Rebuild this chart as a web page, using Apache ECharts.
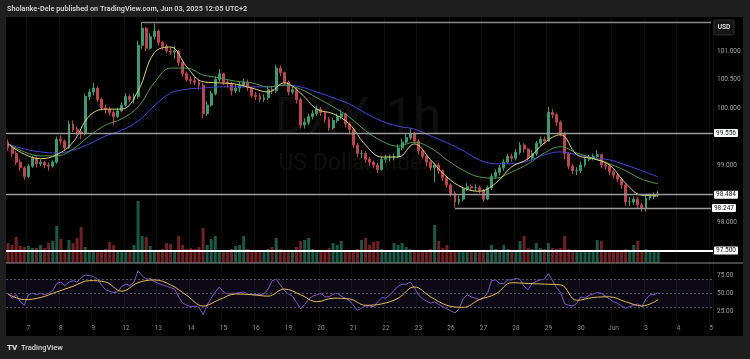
<!DOCTYPE html>
<html><head><meta charset="utf-8">
<script src="https://cdn.jsdelivr.net/npm/echarts@6/dist/echarts.min.js"></script>
<style>html,body{margin:0;padding:0;background:#1f1f1f}#c{width:750px;height:359px}</style>
</head><body><div id="c"></div>
<script>
// ---- axis / time layout ----
const dayLabels = ['7','8','9','12','13','14','15','16','19','20','21','22','23','26','27','28','29','30','Jun','3','4','5'];
const SLOTS_PER_DAY = 8;      // 3-hour candles
const FIRST_DAY_SLOT = 5;     // slot where "7" starts
const TOTAL_SLOTS = 174;      // includes empty future space

// ---- price candles (3h) ----
const opens = [99.40,99.30,99.20,99.05,98.95,98.80,98.98,99.12,99.02,99.05,
99.00,98.98,99.05,99.45,99.42,99.30,99.72,99.62,99.58,99.55,
100.20,100.28,100.35,100.15,100.00,99.97,99.92,99.85,99.95,100.05,
100.20,100.15,100.20,101.10,101.40,101.05,101.25,101.35,101.15,101.08,
101.00,100.98,101.00,100.80,100.60,100.50,100.48,100.45,100.40,99.90,
100.05,100.25,100.50,100.60,100.45,100.42,100.30,100.35,100.40,100.45,
100.35,100.22,100.20,100.15,100.18,100.32,100.30,100.70,100.62,100.45,
100.28,100.32,100.15,99.70,99.75,99.85,99.90,99.98,99.92,99.80,
99.65,99.78,99.85,99.90,99.72,99.62,99.35,99.20,99.20,99.10,
99.05,99.00,98.92,99.10,99.12,99.12,99.15,99.30,99.40,99.48,
99.55,99.42,99.25,99.15,99.05,98.95,99.00,98.90,98.78,98.65,
98.50,98.35,98.40,98.58,98.62,98.60,98.60,98.56,98.40,98.60,
98.80,98.87,98.95,99.05,99.15,99.12,99.22,99.35,99.28,99.12,
99.20,99.38,99.45,99.42,99.92,99.88,99.75,99.55,99.20,98.98,
98.90,98.90,99.00,99.10,99.12,99.15,99.18,99.00,98.98,98.88,
98.82,98.75,98.65,98.35,98.35,98.40,98.30,98.25,98.42,98.45,
98.48];
const closes = [99.30,99.20,99.05,98.95,98.80,98.98,99.12,99.02,99.05,99.00,
98.98,99.05,99.45,99.42,99.30,99.72,99.62,99.58,99.55,100.20,
100.28,100.35,100.15,100.00,99.97,99.92,99.85,99.95,100.05,100.20,
100.15,100.20,101.10,101.40,101.05,101.25,101.35,101.15,101.08,101.00,
100.98,101.00,100.80,100.60,100.50,100.48,100.45,100.40,99.90,100.05,
100.25,100.50,100.60,100.45,100.42,100.30,100.35,100.40,100.45,100.35,
100.22,100.20,100.15,100.18,100.32,100.30,100.70,100.62,100.45,100.28,
100.32,100.15,99.70,99.75,99.85,99.90,99.98,99.92,99.80,99.65,
99.78,99.85,99.90,99.72,99.62,99.35,99.20,99.20,99.10,99.05,
99.00,98.92,99.10,99.12,99.12,99.15,99.30,99.40,99.48,99.55,
99.42,99.25,99.15,99.05,98.95,99.00,98.90,98.78,98.65,98.50,
98.35,98.40,98.58,98.62,98.60,98.60,98.56,98.40,98.60,98.80,
98.87,98.95,99.05,99.15,99.12,99.22,99.35,99.28,99.12,99.20,
99.38,99.45,99.42,99.92,99.88,99.75,99.55,99.20,98.98,98.90,
98.90,99.00,99.10,99.12,99.15,99.18,99.00,98.98,98.88,98.82,
98.75,98.65,98.35,98.35,98.40,98.30,98.25,98.42,98.45,98.48,
98.48];
const lows = [99.25,99.14,99.00,98.90,98.74,98.77,98.95,98.96,98.98,98.94,
98.90,98.95,99.02,99.36,99.26,99.28,99.58,99.52,99.45,99.52,
100.14,100.22,100.10,99.96,99.90,99.87,99.70,99.82,99.92,100.02,
100.10,100.08,100.16,101.04,101.00,101.02,101.20,101.10,101.02,100.96,
100.93,100.86,100.74,100.55,100.46,100.42,100.40,100.32,99.82,99.86,
100.02,100.22,100.46,100.40,100.36,100.22,100.26,100.28,100.36,100.30,
100.18,100.14,100.10,100.10,100.14,100.24,100.26,100.56,100.40,100.22,
100.24,100.08,99.64,99.64,99.70,99.80,99.86,99.86,99.74,99.60,
99.62,99.74,99.80,99.66,99.56,99.30,99.14,99.12,99.04,98.98,
98.94,98.86,98.90,99.04,99.06,99.08,99.12,99.26,99.36,99.44,
99.38,99.18,99.10,98.98,98.90,98.70,98.84,98.72,98.60,98.44,
98.25,98.30,98.36,98.54,98.55,98.54,98.50,98.35,98.38,98.56,
98.76,98.82,98.90,99.02,99.06,99.08,99.18,99.22,99.08,99.08,
99.16,99.34,99.36,99.40,99.82,99.68,99.50,99.10,98.92,98.84,
98.82,98.86,98.96,99.06,99.08,99.10,98.95,98.92,98.82,98.76,
98.70,98.58,98.28,98.28,98.30,98.24,98.18,98.18,98.38,98.40,
98.44];
const highs = [99.45,99.35,99.24,99.10,98.98,99.02,99.16,99.15,99.10,99.08,
99.04,99.08,99.50,99.52,99.45,99.78,99.78,99.68,99.62,100.25,
100.34,100.44,100.38,100.18,100.06,100.02,99.96,100.00,100.10,100.26,
100.24,100.26,101.18,101.51,101.42,101.32,101.48,101.38,101.18,101.12,
101.06,101.08,101.02,100.84,100.64,100.56,100.54,100.50,100.44,100.12,
100.30,100.56,100.68,100.62,100.50,100.46,100.42,100.46,100.52,100.50,
100.38,100.28,100.26,100.24,100.38,100.38,100.76,100.74,100.64,100.48,
100.38,100.36,100.18,99.82,99.90,99.96,100.04,100.02,99.95,99.84,
99.82,99.90,99.96,99.92,99.76,99.65,99.38,99.26,99.24,99.14,
99.08,99.04,99.14,99.18,99.18,99.20,99.36,99.46,99.54,99.65,
99.58,99.45,99.28,99.18,99.08,99.04,99.04,98.92,98.80,98.68,
98.54,98.46,98.62,98.68,98.66,98.66,98.64,98.58,98.64,98.85,
98.92,99.00,99.10,99.20,99.20,99.28,99.40,99.38,99.30,99.26,
99.42,99.50,99.50,100.02,99.98,99.92,99.78,99.58,99.22,99.02,
98.96,99.06,99.14,99.18,99.20,99.26,99.20,99.06,99.02,98.92,
98.86,98.78,98.68,98.44,98.45,98.44,98.34,98.46,98.50,98.52,
98.54];

// ---- volume (relative units) ----
const volumes = [20,18,26,17,16,17,15,15,18,15,
20,22,37,24,13,23,20,25,36,16,
13,12,12,13,14,21,18,12,12,12,
13,18,62,27,26,17,13,13,14,20,
19,12,27,18,14,15,14,16,35,18,
24,27,13,13,12,14,17,18,27,14,
13,12,13,13,14,16,25,14,13,12,
13,16,22,23,25,14,12,13,13,15,
20,18,22,12,12,13,14,23,25,18,
21,22,14,12,13,20,18,20,16,14,
12,12,13,12,14,38,22,15,18,13,
12,12,13,12,12,13,12,13,12,18,
14,13,18,14,13,12,22,27,15,14,
20,15,14,20,15,14,15,27,14,13,
12,12,13,12,13,23,22,12,12,11,
12,13,14,12,18,22,12,14,12,13,
12];

// ---- moving averages, one value every MA_STEP slots ----
const MA_STEP = 4;
const maFast = [99.37,99.19,99.11,99.18,99.40,99.86,99.98,99.98,100.30,100.97,101.07,100.72,100.46,100.44,100.42,100.35,100.28,100.44,100.26,99.98,99.90,99.72,99.35,99.14,99.14,99.37,99.09,98.79,98.60,98.54,98.68,98.97,99.11,99.39,99.53,99.18,99.11,99.00,98.68,98.47,98.46];
const maMid  = [99.37,99.23,99.16,99.16,99.28,99.51,99.70,99.81,100.02,100.44,100.70,100.70,100.58,100.53,100.47,100.44,100.37,100.40,100.33,100.18,100.02,99.84,99.60,99.42,99.33,99.40,99.30,99.09,98.91,98.79,98.77,98.88,99.02,99.21,99.32,99.21,99.12,99.02,98.90,98.75,98.67];
const maSlow = [99.37,99.28,99.23,99.21,99.26,99.37,99.51,99.61,99.77,100.04,100.26,100.33,100.35,100.37,100.37,100.37,100.37,100.40,100.37,100.28,100.18,100.07,99.91,99.77,99.68,99.63,99.51,99.39,99.25,99.09,99.02,99.02,99.07,99.18,99.23,99.18,99.12,99.09,99.00,98.90,98.79];

// ---- RSI ----
const rsi = [50,43,48,38,33,48,50,48,50,48,
50,54,64,66,61,66,68,66,72,76,
75,74,70,62,55,53,51,52,60,63,
61,66,82,75,70,71,67,64,62,60,
58,56,45,36,33,31,32,30,20,33,
43,52,59,52,49,50,50,51,52,49,
48,48,48,49,56,68,70,62,54,49,
46,37,28,34,42,46,48,50,45,45,
49,50,46,43,40,33,26,29,32,32,
31,38,44,43,48,54,60,63,63,66,
58,48,42,39,36,38,34,31,28,25,
22,28,42,48,45,43,41,44,50,68,
69,64,64,69,69,71,70,60,55,64,
67,69,70,78,68,58,51,35,33,32,
36,45,43,47,49,51,50,46,42,38,
36,32,29,31,33,35,31,42,48,48,
51];
const rsiMa = [49,41,44,52,60,68,66,53,65,69,62,47,32,41,49,48,46,56,48,38,43,42,33,35,43,59,45,33,30,41,49,65,64,63,62,40,44,45,38,32,41];
const rsiLevels = [70, 50, 30];
const rsiTickLabels = [75, 50, 25];

// ---- horizontal levels & price tick labels ----
const levelTop = 101.509, levelTopStartSlot = 33;
const level1 = 99.556;
const level2 = 98.484;
const level3 = 98.247, level3StartSlot = 110;
const level4 = 97.500;
const priceTickLabels = [101, 100.5, 100, 99, 98];

// ---- build ----
const FONT = 'Roboto, "Liberation Sans", sans-serif';
const categories = [];
for (let k = 0; k < TOTAL_SLOTS; k++) categories.push(String(k));
function daySlot(idx) {
  const d = (idx - FIRST_DAY_SLOT) / SLOTS_PER_DAY;
  return idx >= FIRST_DAY_SLOT && Number.isInteger(d) && d < dayLabels.length ? d : -1;
}
const isDay = (idx) => daySlot(idx) >= 0;

const UP = '#3d9a72', DOWN = '#b9474d';
const candleData = opens.map((o, i) => [o, closes[i], lows[i], highs[i]]);
const volData = volumes.map((v, i) => ({
  value: v,
  itemStyle: { color: closes[i] >= opens[i] ? 'rgba(38,120,96,0.72)' : 'rgba(140,42,48,0.78)' }
}));
const pairs = (arr) => arr.map((v, i) => [i * MA_STEP, v]);

const markLbl = (val) => ({
  show: true, position: 'end', distance: 1, formatter: val.toFixed(3),
  backgroundColor: '#ffffff', color: '#131722', fontSize: 6.5, fontFamily: FONT,
  padding: [1, 2, 0, 2], borderRadius: 1
});
const tickLbl = (val, digits) => ({
  show: true, position: 'end', distance: 4, formatter: val.toFixed(digits),
  color: '#9c9c9c', fontSize: 6.5, fontFamily: FONT
});
const hidden = { color: 'rgba(0,0,0,0)', width: 0, type: 'solid' };
const grey = { color: '#9a9a9a', width: 1.3, type: 'solid' };

const xBase = (gi, showLabels) => ({
  type: 'category', gridIndex: gi, data: categories, boundaryGap: true,
  axisLine: { show: false }, axisTick: { show: false },
  axisLabel: showLabels ? {
    show: true, interval: (idx) => isDay(idx), formatter: (v, idx) => { const d = daySlot(idx); return d >= 0 ? dayLabels[d] : ''; },
    color: '#8c8c8c', fontSize: 6.5, fontFamily: FONT, margin: 0, verticalAlign: 'middle'
  } : { show: false },
  splitLine: { show: true, interval: (idx) => isDay(idx), lineStyle: { color: '#0d0d0d', width: 1 } }
});

const staticGraphics = [
  { type: 'rect', z: -20, silent: true, shape: { x: 6, y: 17, width: 737, height: 319 }, style: { fill: '#000000' } },
  { type: 'text', z: -19, silent: true, x: 358, y: 145, style: { text: 'DXY, 1h', fill: 'rgba(255,255,255,0.06)', font: '50px ' + FONT, textAlign: 'center', textVerticalAlign: 'bottom' } },
  { type: 'text', z: -19, silent: true, x: 356, y: 176, style: { text: 'US Dollar Index', fill: 'rgba(255,255,255,0.06)', font: '23px ' + FONT, textAlign: 'center', textVerticalAlign: 'bottom' } },
  { type: 'text', z: 10, silent: true, x: 7, y: 9, style: { text: 'Sholanke-Dele published on TradingView.com, Jun 03, 2025 12:05 UTC+2', fill: '#d6d6d6', font: '600 7.3px ' + FONT, textVerticalAlign: 'middle' } },
  { type: 'rect', z: 10, silent: true, shape: { x: 714, y: 20, width: 20, height: 15, r: 2 }, style: { fill: '#161616', stroke: '#2c2c2c', lineWidth: 1 } },
  { type: 'text', z: 11, silent: true, x: 724, y: 27.5, style: { text: 'USD', fill: '#e6e6e6', font: '600 6.5px ' + FONT, textAlign: 'center', textVerticalAlign: 'middle' } },
  { type: 'line', z: 10, silent: true, shape: { x1: 6, y1: 263, x2: 743, y2: 263 }, style: { stroke: '#8c8c8c', lineWidth: 1.2 } },
  { type: 'text', z: 10, silent: true, x: 7, y: 348, style: { text: 'TV', fill: '#d8d8d8', font: '900 8px ' + FONT, textVerticalAlign: 'middle' } },
  { type: 'text', z: 10, silent: true, x: 21, y: 348, style: { text: 'TradingView', fill: '#d8d8d8', font: '500 7.5px ' + FONT, textVerticalAlign: 'middle' } }
];

const chart = echarts.init(document.getElementById('c'), null, { renderer: 'canvas' });
chart.setOption({
  animation: false,
  backgroundColor: '#1f1f1f',
  grid: [
    { left: 6, right: 37, top: 17, height: 233.5 },
    { left: 6, right: 37, top: 190, height: 73 },
    { left: 6, right: 37, top: 258.1, height: 70.4 }
  ],
  xAxis: [xBase(0, false), xBase(1, false), xBase(2, true)],
  yAxis: [
    { type: 'value', gridIndex: 0, position: 'right', min: 97.5, max: 101.596,
      axisLine: { show: false }, axisTick: { show: false }, splitLine: { show: false }, axisLabel: { show: false } },
    { type: 'value', gridIndex: 1, min: 0, max: 73, show: false },
    { type: 'value', gridIndex: 2, position: 'right', min: 0, max: 100,
      axisLine: { show: false }, axisTick: { show: false }, splitLine: { show: false }, axisLabel: { show: false } }
  ],
  series: [
    { type: 'bar', xAxisIndex: 1, yAxisIndex: 1, data: volData, barWidth: 3, z: 1, silent: true },
    { type: 'candlestick', xAxisIndex: 0, yAxisIndex: 0, data: candleData, barWidth: 2.4, z: 3,
      itemStyle: { color: UP, color0: DOWN, borderColor: UP, borderColor0: DOWN, borderWidth: 1 },
      markLine: {
        silent: true, symbol: ['none', 'none'], animation: false,
        lineStyle: { type: 'solid', color: '#9a9a9a', width: 1.3 },
        data: [
          [{ coord: [levelTopStartSlot, levelTop], lineStyle: { color: '#8a8a8a', width: 1.3, type: 'solid' }, label: { show: false } },
           { coord: [TOTAL_SLOTS - 1, levelTop] }],
          { yAxis: level1, lineStyle: grey, label: markLbl(level1) },
          { yAxis: level2, lineStyle: grey, label: markLbl(level2) },
          [{ coord: [level3StartSlot, level3], lineStyle: grey, label: markLbl(level3) },
           { coord: [TOTAL_SLOTS - 1, level3] }],
          { yAxis: level4, lineStyle: { color: '#ffffff', width: 2, type: 'solid' }, label: markLbl(level4) }
        ]
      } },
    { type: 'line', xAxisIndex: 0, yAxisIndex: 0, data: pairs(maSlow), smooth: 0.4, symbol: 'none', z: 4,
      lineStyle: { color: '#4a45d0', width: 1 } },
    { type: 'line', xAxisIndex: 0, yAxisIndex: 0, data: pairs(maMid), smooth: 0.4, symbol: 'none', z: 4,
      lineStyle: { color: '#4f9a52', width: 1 } },
    { type: 'line', xAxisIndex: 0, yAxisIndex: 0, data: pairs(maFast), smooth: 0.4, symbol: 'none', z: 4,
      lineStyle: { color: '#dcd47a', width: 1 } },
    { type: 'line', xAxisIndex: 2, yAxisIndex: 2, data: rsi, symbol: 'none', z: 4,
      lineStyle: { color: '#7e57c2', width: 1 },
      markArea: { silent: true, itemStyle: { color: 'rgba(126,87,194,0.10)' }, data: [[{ yAxis: rsiLevels[2] }, { yAxis: rsiLevels[0] }]] },
      markLine: { silent: true, symbol: ['none', 'none'], label: { show: false },
        lineStyle: { color: '#55506a', type: [2, 2], width: 1 },
        data: [
          ...rsiLevels.map(v => ({ yAxis: v })),
          ...rsiTickLabels.map(v => ({ yAxis: v, lineStyle: hidden, label: tickLbl(v, 2) }))
        ] } },
    { type: 'line', xAxisIndex: 2, yAxisIndex: 2, data: pairs(rsiMa), smooth: 0.4, symbol: 'none', z: 5,
      lineStyle: { color: '#e0bd5c', width: 1 } }
  ],
  graphic: { elements: staticGraphics }
});

// price scale tick labels, positioned through the price axis itself (own top layer)
const tickGraphics = priceTickLabels.map(v => {
  const y = chart.convertToPixel({ xAxisIndex: 0, yAxisIndex: 0 }, [0, v])[1];
  return { type: 'text', zlevel: 1, z: 50, silent: true, x: 717, y: y,
    style: { text: v.toFixed(3), fill: '#a0a0a0', font: '6.5px ' + FONT, textVerticalAlign: 'middle', textAlign: 'left' } };
});
chart.setOption({ graphic: { elements: staticGraphics.concat(tickGraphics) } });
</script></body></html>
